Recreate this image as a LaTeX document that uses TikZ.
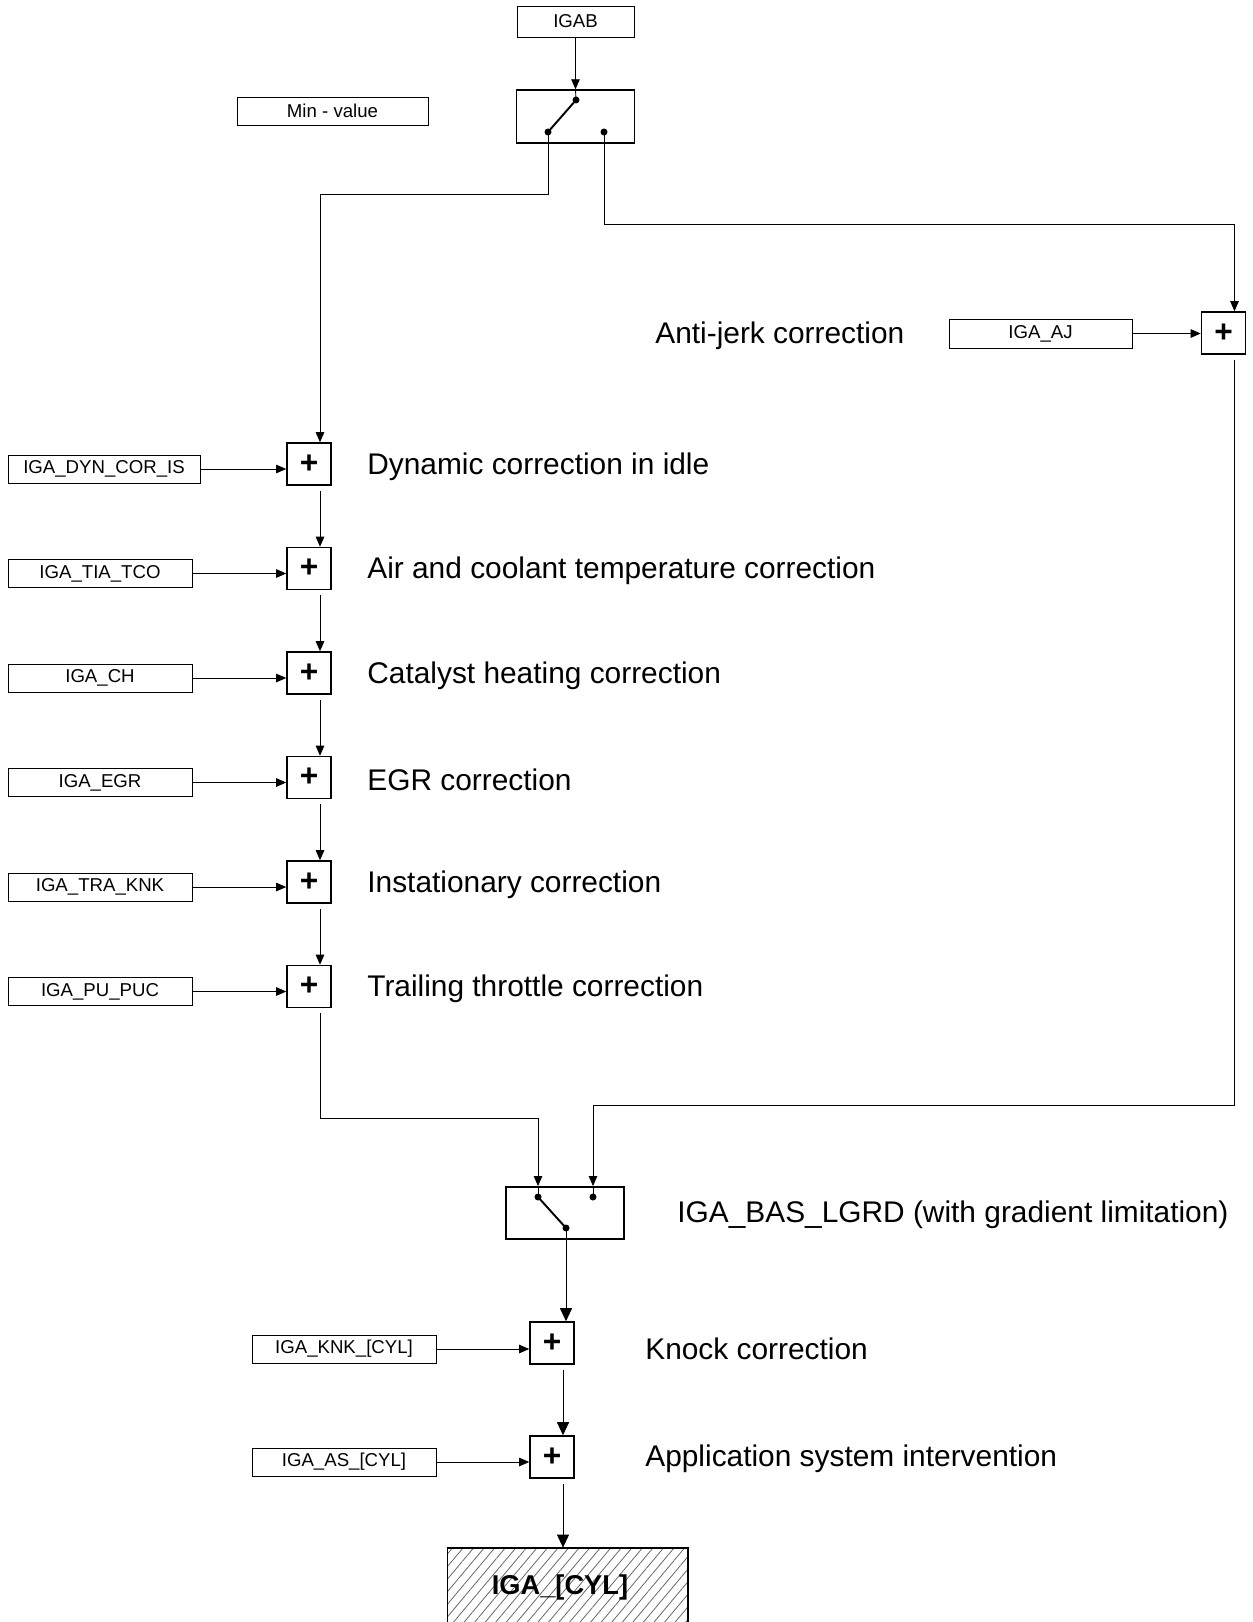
\documentclass[tikz,border=0pt]{standalone}
\usepackage{fontspec}
\setmainfont{Liberation Sans}
\usetikzlibrary{arrows.meta,patterns.meta}

\tikzset{
  lbl/.style={draw,line width=0.5pt,minimum width=3.68cm,minimum height=0.56cm,inner sep=0pt,font=\fontsize{10.6}{12}\selectfont},
  sumbox/.style={draw,line width=0.9pt,minimum width=0.88cm,minimum height=0.84cm,inner sep=0pt,font=\fontsize{18}{20}\selectfont\bfseries},
  swbox/.style={draw,line width=1.1pt,minimum width=2.36cm,minimum height=1.05cm,inner sep=0pt},
  txt/.style={anchor=west,inner sep=0pt,yshift=-0.05cm,font=\fontsize{17}{20}\selectfont},
  dot/.style={circle,fill,inner sep=0pt,minimum size=1.4mm},
  flow/.style={line width=0.5pt,-{Triangle[length=2mm,width=1.7mm]}},
  flowbig/.style={line width=0.5pt,-{Triangle[length=2.6mm,width=2.4mm]}},
  gap/.style={shorten <=0.1cm},
}

\begin{document}
\begin{tikzpicture}[x=0.02cm,y=-0.02cm]
\useasboundingbox (0,0) rectangle (1253,1622);

% top: base value and selection
\node[lbl,minimum width=2.34cm,minimum height=0.62cm] (igab) at (575.5,21.5) {IGAB};
\node[lbl,minimum width=3.82cm] (minval) at (332.5,111) {Min - value};
\node[swbox] (sw1) at (575.5,116.5) {};
\node[dot] (sw1a) at (576,100) {};
\node[dot] (sw1b) at (548,132) {};
\node[dot] (sw1c) at (604,132) {};
\draw[line width=1.1pt] (sw1a.center) -- (sw1b.center);
\draw[flow] (igab) -- (sw1.north);
\draw[line width=0.5pt] (sw1.north) -- (sw1a.center);

% anti-jerk branch
\node[lbl,minimum width=3.66cm,minimum height=0.58cm] (ajl) at (1040.5,333.5) {IGA\_AJ};
\node[sumbox] (saj) at (1223.5,333) {+};
\node[txt] (tajc) at (655,333) {Anti-jerk correction};
\draw[flow] (ajl) -- (ajl -| saj.west);

% correction chain
\node[sumbox] (s1) at (309,464) {+};
\node[sumbox] (s2) at (309,568.5) {+};
\node[sumbox] (s3) at (309,673) {+};
\node[sumbox] (s4) at (309,777.5) {+};
\node[sumbox] (s5) at (309,882) {+};
\node[sumbox] (s6) at (309,986.5) {+};

\node[lbl,minimum width=3.84cm] (l1) at (104,469) {IGA\_DYN\_COR\_IS};
\node[lbl] (l2) at (100,573.5) {IGA\_TIA\_TCO};
\node[lbl] (l3) at (100,678) {IGA\_CH};
\node[lbl] (l4) at (100,782.5) {IGA\_EGR};
\node[lbl] (l5) at (100,887) {IGA\_TRA\_KNK};
\node[lbl] (l6) at (100,991.5) {IGA\_PU\_PUC};

\node[txt] (t1) at (367,464) {Dynamic correction in idle};
\node[txt] (t2) at (367,568.5) {Air and coolant temperature correction};
\node[txt] (t3) at (367,673) {Catalyst heating correction};
\node[txt] (t4) at (367,777.5) {EGR correction};
\node[txt] (t5) at (367,882) {Instationary correction};
\node[txt] (t6) at (367,986.5) {Trailing throttle correction};

\draw[flow] (l1) -- (l1 -| s1.west);
\draw[flow] (l2) -- (l2 -| s2.west);
\draw[flow] (l3) -- (l3 -| s3.west);
\draw[flow] (l4) -- (l4 -| s4.west);
\draw[flow] (l5) -- (l5 -| s5.west);
\draw[flow] (l6) -- (l6 -| s6.west);

\draw[flow] (sw1b.center) -- ++(0,62) -| ([xshift=0.22cm]s1.north);
\draw[flow] (sw1c.center) -- ++(0,92) -| ([xshift=0.22cm]saj.north);

\draw[flow,gap] ([xshift=0.22cm]s1.south) -- ([xshift=0.22cm]s2.north);
\draw[flow,gap] ([xshift=0.22cm]s2.south) -- ([xshift=0.22cm]s3.north);
\draw[flow,gap] ([xshift=0.22cm]s3.south) -- ([xshift=0.22cm]s4.north);
\draw[flow,gap] ([xshift=0.22cm]s4.south) -- ([xshift=0.22cm]s5.north);
\draw[flow,gap] ([xshift=0.22cm]s5.south) -- ([xshift=0.22cm]s6.north);

% gradient limited switch
\node[swbox,minimum height=1.04cm] (sw2) at (565,1213) {};
\node[dot] (sw2a) at (538,1197) {};
\node[dot] (sw2b) at (593,1197) {};
\node[dot] (sw2c) at (566,1228) {};
\draw[line width=1.1pt] (sw2a.center) -- (sw2c.center);
\draw[line width=0.5pt] (sw2a |- sw2.north) -- (sw2a.center);
\draw[line width=0.5pt] (sw2b |- sw2.north) -- (sw2b.center);
\node[txt] (tbas) at (677,1212) {IGA\_BAS\_LGRD (with gradient limitation)};

\draw[flow,gap] ([xshift=0.22cm]s6.south) -- ++(0,110) -| (sw2a |- sw2.north);
\draw[flow,gap] ([xshift=0.22cm]saj.south) -- ++(0,751) -| (sw2b |- sw2.north);

% cylinder individual part
\node[sumbox] (sk) at (552,1343) {+};
\node[sumbox] (sa) at (552,1457) {+};
\node[lbl] (kl) at (344,1349) {IGA\_KNK\_[CYL]};
\node[lbl] (al) at (344,1462) {IGA\_AS\_[CYL]};
\node[txt] (tk) at (645,1346) {Knock correction};
\node[txt] (ta) at (645,1456) {Application system intervention};
\draw[flow] (kl) -- (kl -| sk.west);
\draw[flow] (al) -- (al -| sa.west);

\node[draw,line width=0.6pt,minimum width=4.82cm,minimum height=1.58cm,inner sep=0pt,
  pattern={Lines[angle=50,distance=4.6pt,line width=0.45pt]},pattern color=black!60,
  font=\fontsize{15.5}{18}\selectfont\bfseries] (res) at (567.5,1587.5) {IGA\_[CYL]\hspace*{0.3cm}};

\draw[flowbig] (sw2c.center) -- (sw2c |- sk.north);
\draw[flowbig,gap] ([xshift=0.22cm]sk.south) -- ([xshift=0.22cm]sa.north);
\draw[flowbig,gap] ([xshift=0.22cm]sa.south) -- ([xshift=0.22cm]sa.south |- res.north);
\end{tikzpicture}
\end{document}
